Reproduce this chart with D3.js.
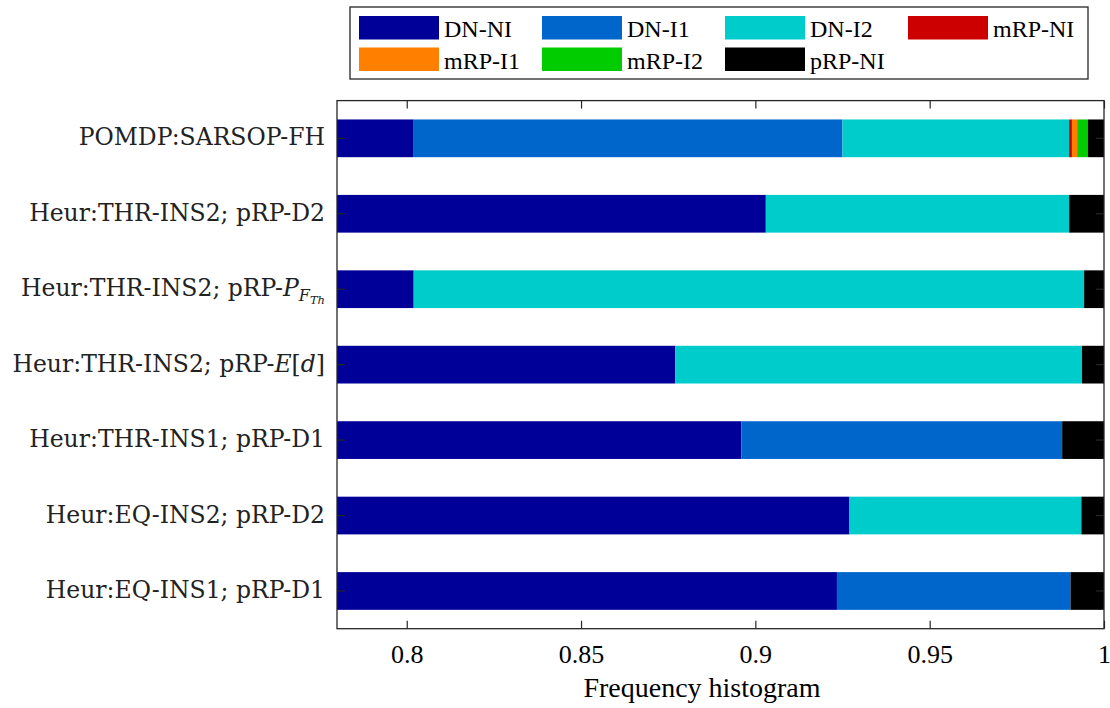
<!DOCTYPE html>
<html>
<head>
<meta charset="utf-8">
<script src="https://cdn.jsdelivr.net/npm/d3@7"></script>
<style>
  body { margin: 0; background: #ffffff; }
  text { font-family: "Liberation Serif", serif; }
</style>
</head>
<body>
<script>
// categories, top to bottom
var categories = [
  "POMDP:SARSOP-FH",
  "Heur:THR-INS2; pRP-D2",
  "Heur:THR-INS2; pRP-PFTh",
  "Heur:THR-INS2; pRP-Ed",
  "Heur:THR-INS1; pRP-D1",
  "Heur:EQ-INS2; pRP-D2",
  "Heur:EQ-INS1; pRP-D1"
];

var seriesNames = ["DN-NI", "DN-I1", "DN-I2", "mRP-NI", "mRP-I1", "mRP-I2", "pRP-NI"];
var seriesColors = ["#000099", "#0066cc", "#00cccc", "#cc0000", "#ff8000", "#00cc00", "#000000"];

// frequency per series, one value per category
var dnNI  = [0.802, 0.903, 0.802, 0.877, 0.896, 0.927, 0.9234];
var dnI1  = [0.123, 0, 0, 0, 0.092, 0, 0.067];
var dnI2  = [0.065, 0.087, 0.1923, 0.1167, 0, 0.0665, 0];
var mrpNI = [0.0008, 0, 0, 0, 0, 0, 0];
var mrpI1 = [0.0015, 0, 0, 0, 0, 0, 0];
var mrpI2 = [0.0031, 0, 0, 0, 0, 0, 0];
var prpNI = [0.0046, 0.010, 0.0057, 0.0063, 0.012, 0.0065, 0.0096];

var xTicks = [0.8, 0.85, 0.9, 0.95, 1];
var xDomain = [0.78, 1];

var width = 1110, height = 708;
var plotL = 337, plotR = 1104, plotT = 100.6, plotB = 628.7;
var axisColor = "#262626";
var mathFont = "'DejaVu Serif', serif";

var seriesValues = [dnNI, dnI1, dnI2, mrpNI, mrpI1, mrpI2, prpNI];
var rows = categories.map(function(c, i) {
  var r = { cat: c };
  seriesNames.forEach(function(s, j) { r[s] = seriesValues[j][i]; });
  return r;
});

var svg = d3.select("body").append("svg")
  .attr("width", width)
  .attr("height", height);

var x = d3.scaleLinear().domain(xDomain).range([plotL, plotR]);
var y = d3.scaleBand().domain(categories).range([plotT, plotB]).paddingInner(0.5).paddingOuter(0.25);

svg.append("defs").append("clipPath").attr("id", "plotclip")
  .append("rect")
  .attr("x", plotL).attr("y", plotT)
  .attr("width", plotR - plotL).attr("height", plotB - plotT);

var stack = d3.stack().keys(seriesNames);
var layers = stack(rows);

var g = svg.append("g").attr("clip-path", "url(#plotclip)");
g.selectAll("g.layer")
  .data(layers)
  .enter().append("g")
  .attr("class", "layer")
  .attr("fill", function(d, i) { return seriesColors[i]; })
  .selectAll("rect")
  .data(function(d) { return d; })
  .enter().append("rect")
  .attr("x", function(d) { return x(d[0]); })
  .attr("width", function(d) { return Math.max(0, x(d[1]) - x(d[0])); })
  .attr("y", function(d) { return y(d.data.cat); })
  .attr("height", y.bandwidth());

// axes box
svg.append("rect")
  .attr("x", plotL).attr("y", plotT)
  .attr("width", plotR - plotL).attr("height", plotB - plotT)
  .attr("fill", "none")
  .attr("stroke", axisColor)
  .attr("stroke-width", 1.3);

var tickLen = 8;
var xAxisBottom = d3.axisBottom(x).tickValues(xTicks).tickSize(-tickLen).tickPadding(16)
  .tickFormat(function(d) { return d === 1 ? "1" : String(d); });
var gx = svg.append("g").attr("transform", "translate(0," + plotB + ")").call(xAxisBottom);
gx.select(".domain").remove();
gx.selectAll("line").attr("stroke", axisColor).attr("stroke-width", 1.2);
gx.selectAll("text")
  .attr("fill", "#000")
  .style("font-size", "26px")
  .style("font-family", "'Liberation Serif', serif");

var xAxisTop = d3.axisTop(x).tickValues(xTicks).tickSize(-tickLen).tickFormat("");
var gxt = svg.append("g").attr("transform", "translate(0," + plotT + ")").call(xAxisTop);
gxt.select(".domain").remove();
gxt.selectAll("line").attr("stroke", axisColor).attr("stroke-width", 1.2);

// y ticks at band centres, both sides
categories.forEach(function(c) {
  var cy = y(c) + y.bandwidth() / 2;
  svg.append("line").attr("x1", plotL).attr("x2", plotL + tickLen).attr("y1", cy).attr("y2", cy).attr("stroke", axisColor).attr("stroke-width", 1.2);
  svg.append("line").attr("x1", plotR - tickLen).attr("x2", plotR).attr("y1", cy).attr("y2", cy).attr("stroke", axisColor).attr("stroke-width", 1.2);
});

// y labels (latex-like, some with math parts)
var labelSize = 23.5;
categories.forEach(function(c) {
  var cy = y(c) + y.bandwidth() / 2;
  var t = svg.append("text")
    .attr("x", plotL - 12)
    .attr("y", cy + 7)
    .attr("text-anchor", "end")
    .style("font-family", mathFont)
    .style("font-size", labelSize + "px")
    .attr("fill", "#222");
  if (c === "Heur:THR-INS2; pRP-PFTh") {
    t.append("tspan").text("Heur:THR-INS2; pRP-");
    t.append("tspan").style("font-style", "italic").text("P");
    t.append("tspan").style("font-style", "italic").style("font-size", "16px").attr("dy", 5).text("F");
    t.append("tspan").style("font-style", "italic").style("font-size", "11.5px").attr("dy", 3).text("Th");
  } else if (c === "Heur:THR-INS2; pRP-Ed") {
    t.append("tspan").text("Heur:THR-INS2; pRP-");
    t.append("tspan").style("font-style", "italic").text("E");
    t.append("tspan").text("[");
    t.append("tspan").style("font-style", "italic").text("d");
    t.append("tspan").text("]");
  } else {
    t.text(c);
  }
});

// x axis title
svg.append("text")
  .attr("x", 702)
  .attr("y", 697)
  .attr("text-anchor", "middle")
  .style("font-size", "28px")
  .attr("fill", "#000")
  .text("Frequency histogram");

// legend
var legend = svg.append("g");
legend.append("rect")
  .attr("x", 350).attr("y", 7)
  .attr("width", 738).attr("height", 72)
  .attr("fill", "#fff")
  .attr("stroke", axisColor)
  .attr("stroke-width", 1.3);

var colX = [359, 542, 725, 908];
var rowY = [16, 47.5];
seriesNames.forEach(function(s, i) {
  var cx = colX[i % 4], ry = rowY[Math.floor(i / 4)];
  legend.append("rect")
    .attr("x", cx).attr("y", ry)
    .attr("width", 80).attr("height", 23.5)
    .attr("fill", seriesColors[i]);
  legend.append("text")
    .attr("x", cx + 85)
    .attr("y", ry + 21)
    .style("font-size", "24px")
    .attr("fill", "#000")
    .text(s);
});
</script>
</body>
</html>
